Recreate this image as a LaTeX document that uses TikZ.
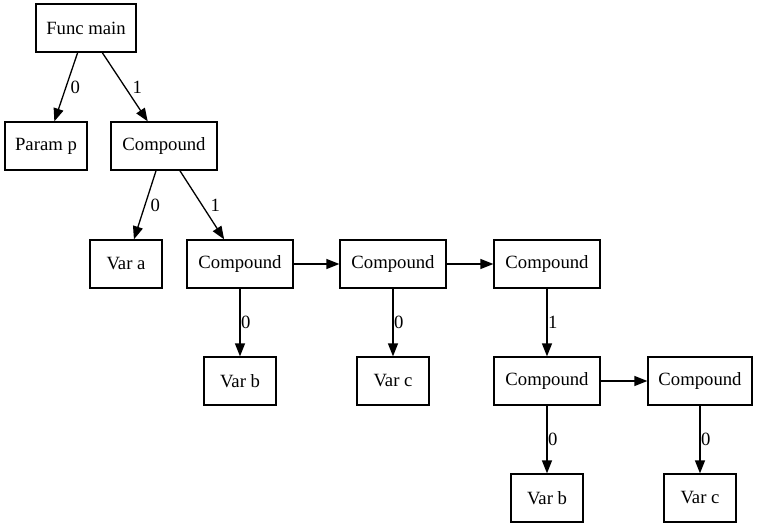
\documentclass[tikz,border=0pt]{standalone}
\usepackage{fontspec}
\setmainfont{Liberation Serif}
\usetikzlibrary{arrows.meta}
\begin{document}
\begin{tikzpicture}[x=1pt,y=-1pt,
  box/.style={draw,line width=1.3pt,minimum height=48pt,inner sep=0pt,font=\fontsize{18.7}{22}\selectfont},
  edge/.style={line width=1.3pt,-{Triangle[length=13pt,width=10pt]}},
  lbl/.style={font=\fontsize{18.7}{22}\selectfont,inner sep=0pt,anchor=west}]
\useasboundingbox (0,0) rectangle (757,528);
% tree nodes
\node[box,minimum width=100pt] (fm) at (86,28) {Func main};
\node[box,minimum width=82pt] (pp) at (46,146) {Param p};
\node[box,minimum width=106pt] (c1) at (164,146) {Compound};
\node[box,minimum width=72pt] (va) at (126,264) {Var a};
\node[box,minimum width=106pt] (c2) at (240,264) {Compound};
\node[box,minimum width=106pt] (c3) at (393,264) {Compound};
\node[box,minimum width=106pt] (c4) at (547,264) {Compound};
\node[box,minimum width=72pt] (vb1) at (240,381) {Var b};
\node[box,minimum width=72pt] (vc1) at (393,381) {Var c};
\node[box,minimum width=106pt] (c5) at (547,381) {Compound};
\node[box,minimum width=104pt] (c6) at (700,381) {Compound};
\node[box,minimum width=72pt] (vb2) at (547,498) {Var b};
\node[box,minimum width=72pt] (vc2) at (700,498) {Var c};
% connectors
\draw[edge] (fm) -- (pp) node[lbl,pos=0.5,xshift=4pt] {0};
\draw[edge] (fm) -- (c1) node[lbl,pos=0.5,xshift=7pt] {1};
\draw[edge] (c1) -- (va) node[lbl,pos=0.5,xshift=5pt] {0};
\draw[edge] (c1) -- (c2) node[lbl,pos=0.5,xshift=8pt] {1};
\draw[edge] (c2) -- (c3);
\draw[edge] (c3) -- (c4);
\draw[edge] (c2) -- (vb1) node[lbl,pos=0.5,xshift=0.5pt] {0};
\draw[edge] (c3) -- (vc1) node[lbl,pos=0.5,xshift=0.5pt] {0};
\draw[edge] (c4) -- (c5) node[lbl,pos=0.5,xshift=0.5pt] {1};
\draw[edge] (c5) -- (c6);
\draw[edge] (c5) -- (vb2) node[lbl,pos=0.5,xshift=0.5pt] {0};
\draw[edge] (c6) -- (vc2) node[lbl,pos=0.5,xshift=0.5pt] {0};
\end{tikzpicture}
\end{document}
